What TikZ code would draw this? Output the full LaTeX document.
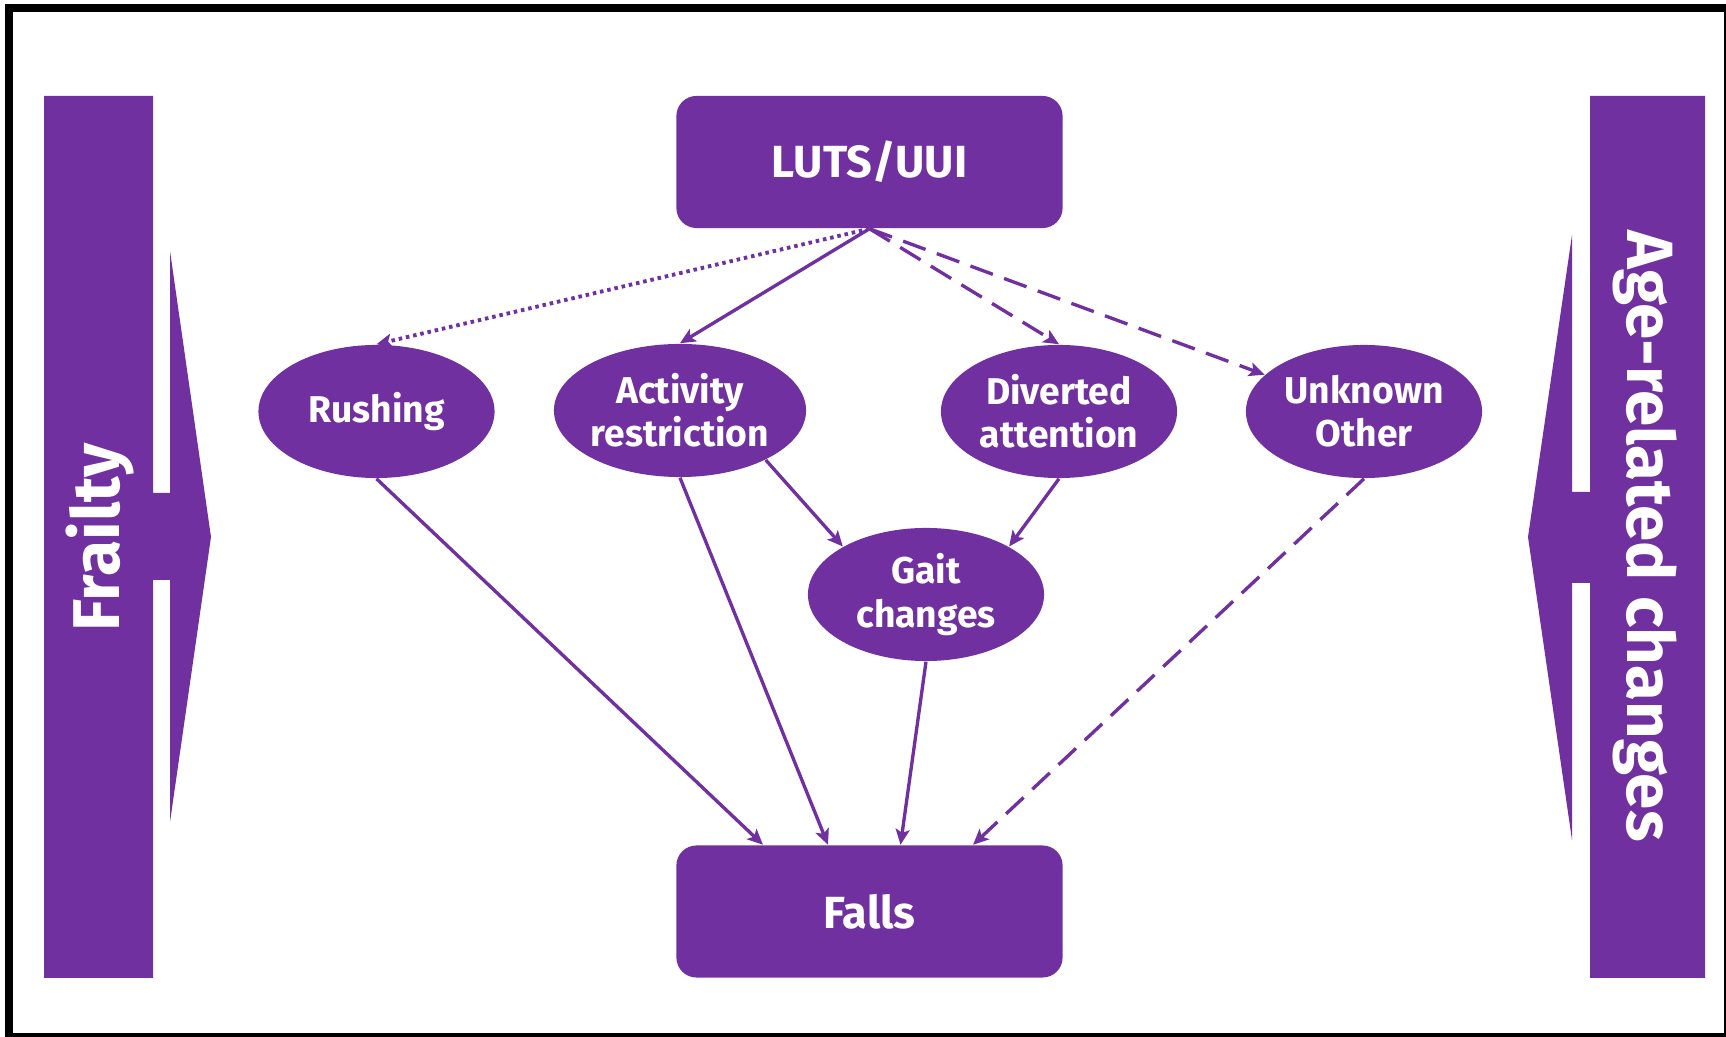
\documentclass[tikz,border=0pt]{standalone}
\usepackage{fontspec}
\setmainfont{Fira Sans}
\usetikzlibrary{arrows.meta,shapes.geometric}
\definecolor{pur}{HTML}{7030A0}
\begin{document}
\begin{tikzpicture}[x=0.01cm,y=-0.01cm,
  box/.style={fill=pur, rounded corners=5.7pt, minimum width=3.86cm, minimum height=1.32cm, text=white, font=\bfseries\fontsize{12.8}{15}\selectfont, inner sep=0pt},
  oval/.style={ellipse, fill=pur, minimum width=2.36cm, minimum height=1.33cm, inner sep=0pt, text=white, align=center, font=\bfseries\fontsize{10.6}{12.3}\selectfont},
  link/.style={draw=pur, line width=0.95pt, -{Stealth[length=4.4pt,width=4pt,inset=1pt]}},
  dashedlink/.style={link, dash pattern=on 6.8pt off 3.4pt},
  dottedlink/.style={link, line width=1.1pt, dash pattern=on 1pt off 1.1pt},
  sidetext/.style={text=white, font=\bfseries\fontsize{18.8}{20}\selectfont, inner sep=0pt}
]
\useasboundingbox (0,0) rectangle (1726,1037);
% frame
\fill[black] (5,4) rectangle (1726,12);
\fill[black] (5,4) rectangle (13,1037);
\fill[black] (5,1033) rectangle (1726,1037);
\fill[black] (1724.3,4) rectangle (1725.7,1037);
% side arrows
\fill[pur] (44,96) -- (153,96) -- (153,493) -- (170,493) -- (170,251) -- (211,537) -- (170,822) -- (170,580) -- (153,580) -- (153,978) -- (44,978) -- cycle;
\fill[pur] (1705,96) -- (1590,96) -- (1590,492) -- (1572,492) -- (1572,235) -- (1528,537) -- (1572,840) -- (1572,583) -- (1590,583) -- (1590,978) -- (1705,978) -- cycle;
\node[sidetext, rotate=90] (frailty) at (100,537) {Frailty};
\node[sidetext, rotate=-90, font=\bfseries\fontsize{18.6}{20}\selectfont] (age) at (1645,536) {Age-related changes};
% nodes
\node[box] (luts) at (869.5,162) {LUTS/UUI};
\node[box] (falls) at (869.5,911.5) {Falls};
\node[oval] (rushing) at (376.5,411.5) {Rushing};
\node[oval] (activity) at (680,410.5) {Activity\\restriction};
\node[oval] (diverted) at (1059,411.5) {Diverted\\attention};
\node[oval] (unknown) at (1364,411.5) {Unknown\\Other};
\node[oval] (gait) at (926,594.5) {Gait\\changes};
% targets on Falls
\coordinate (f1) at ([xshift=-1.065cm]falls.north);
\coordinate (f2) at ([xshift=-0.415cm]falls.north);
\coordinate (f3) at ([xshift=0.31cm]falls.north);
\coordinate (f4) at ([xshift=1.035cm]falls.north);
% connectors
\draw[dottedlink] (luts.south) -- (rushing.north);
\draw[link] (luts.south) -- (activity.north);
\draw[dashedlink] (luts.south) -- (diverted.north);
\draw[dashedlink] (luts.south) -- (unknown);
\draw[link] (rushing.south) -- (f1);
\draw[link] (activity.south) -- (f2);
\draw[link] (activity.-30) -- (gait.150);
\draw[link] (diverted.south) -- (gait.30);
\draw[link] (gait.south) -- (f3);
\draw[dashedlink] (unknown.south) -- (f4);
\end{tikzpicture}
\end{document}
